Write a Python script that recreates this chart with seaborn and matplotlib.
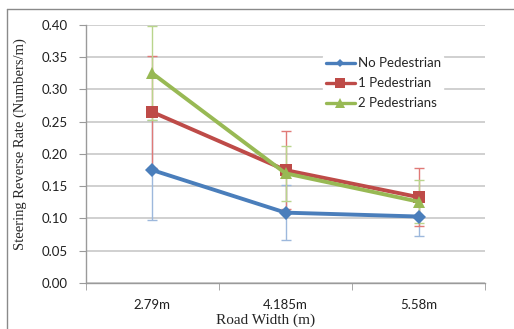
import matplotlib
matplotlib.use("Agg")
import matplotlib.pyplot as plt
import seaborn as sns
import pandas as pd
import numpy as np
from matplotlib.lines import Line2D

categories = ["2.79m", "4.185m", "5.58m"]
series = ["No Pedestrian", "1 Pedestrian", "2 Pedestrians"]
no_ped = [0.175, 0.109, 0.103]
one_ped = [0.265, 0.175, 0.133]
two_ped = [0.325, 0.170, 0.126]
no_ped_err = [0.077, 0.043, 0.030]
one_ped_err = [0.087, 0.061, 0.045]
two_ped_err = [0.073, 0.043, 0.033]
yticks = [0.00, 0.05, 0.10, 0.15, 0.20, 0.25, 0.30, 0.35, 0.40]

colors = ["#4A7EBB", "#BE4B48", "#98B954"]
err_colors = ["#9DB8DC", "#E07A77", "#B9D58C"]
markers = ["D", "s", "^"]
msizes = [7, 9, 9]

values = [no_ped, one_ped, two_ped]
errs = [no_ped_err, one_ped_err, two_ped_err]

rows = []
for s, vals in zip(series, values):
    for c, v in zip(categories, vals):
        rows.append({"Road Width": c, "Series": s, "Rate": v})
df = pd.DataFrame(rows)

sns.set_style("white")
fig = plt.figure(figsize=(5.14, 3.29), dpi=100)
ax = fig.add_axes([0.167, 0.140, 0.777, 0.784])

xpos = np.arange(len(categories))
for vals, e, ec in zip(values, errs, err_colors):
    ax.errorbar(xpos, vals, yerr=e, fmt="none", ecolor=ec, elinewidth=1.0,
                capsize=3.5, capthick=1.0, zorder=2)

for i, s in enumerate(series):
    sub = df[df["Series"] == s]
    sns.lineplot(data=sub, x="Road Width", y="Rate", ax=ax, color=colors[i],
                 marker=markers[i], markersize=msizes[i], markeredgewidth=0,
                 linewidth=2.8, errorbar=None, sort=False, legend=False, zorder=3)

ax.set_xlim(-0.5, 2.5)
ax.set_ylim(0, 0.40)
ax.set_yticks(yticks)
ax.set_yticklabels([f"{t:.2f}" for t in yticks])
ax.set_xticks(xpos)
ax.set_xticklabels(categories)
ax.grid(axis="y", color="#C8C8C8", linewidth=1.2)
ax.set_axisbelow(True)

for side in ["top", "right"]:
    ax.spines[side].set_visible(False)
for side in ["left", "bottom"]:
    ax.spines[side].set_color("#9A9A9A")
    ax.spines[side].set_linewidth(1.0)

for lab in ax.get_xticklabels() + ax.get_yticklabels():
    lab.set_fontfamily("Lato")
    lab.set_fontsize(9.5)
    lab.set_color("#202020")

ax.tick_params(axis="y", which="both", left=True, length=5, color="#9A9A9A", pad=8)
ax.tick_params(axis="x", which="major", bottom=False, pad=8)
ax.set_xticks([-0.5, 0.5, 1.5, 2.5], minor=True)
ax.tick_params(axis="x", which="minor", bottom=True, length=5, color="#9A9A9A")

ax.set_xlabel("Road Width (m)", fontfamily="Liberation Serif", fontsize=11)
ax.xaxis.set_label_coords(0.45, -0.118)
ax.set_ylabel("Steering Reverse Rate (Numbers/m)", fontfamily="Liberation Serif",
              fontsize=10.5)
ax.yaxis.set_label_coords(-0.148, 0.54)

handles = [Line2D([0], [0], color=colors[i], marker=markers[i], linewidth=2.4,
                  markersize=[4.5, 6.5, 6.5][i], markeredgewidth=0) for i in range(3)]
leg = ax.legend(handles, series, loc="upper left", bbox_to_anchor=(0.578, 0.91),
                frameon=True, framealpha=1, edgecolor="white", facecolor="white",
                handlelength=2.2, handletextpad=0.2, labelspacing=0.6,
                borderpad=0.2, prop={"family": "Lato", "size": 9.5})

fig.add_artist(Line2D([7 / 514, 1.0], [1 - 9 / 329, 1 - 9 / 329],
                      transform=fig.transFigure, color="#8A8A8A", linewidth=1.0))
fig.add_artist(Line2D([7 / 514, 7 / 514], [0, 1 - 9 / 329],
                      transform=fig.transFigure, color="#8A8A8A", linewidth=1.0))

fig.savefig("out.png", dpi=100)
